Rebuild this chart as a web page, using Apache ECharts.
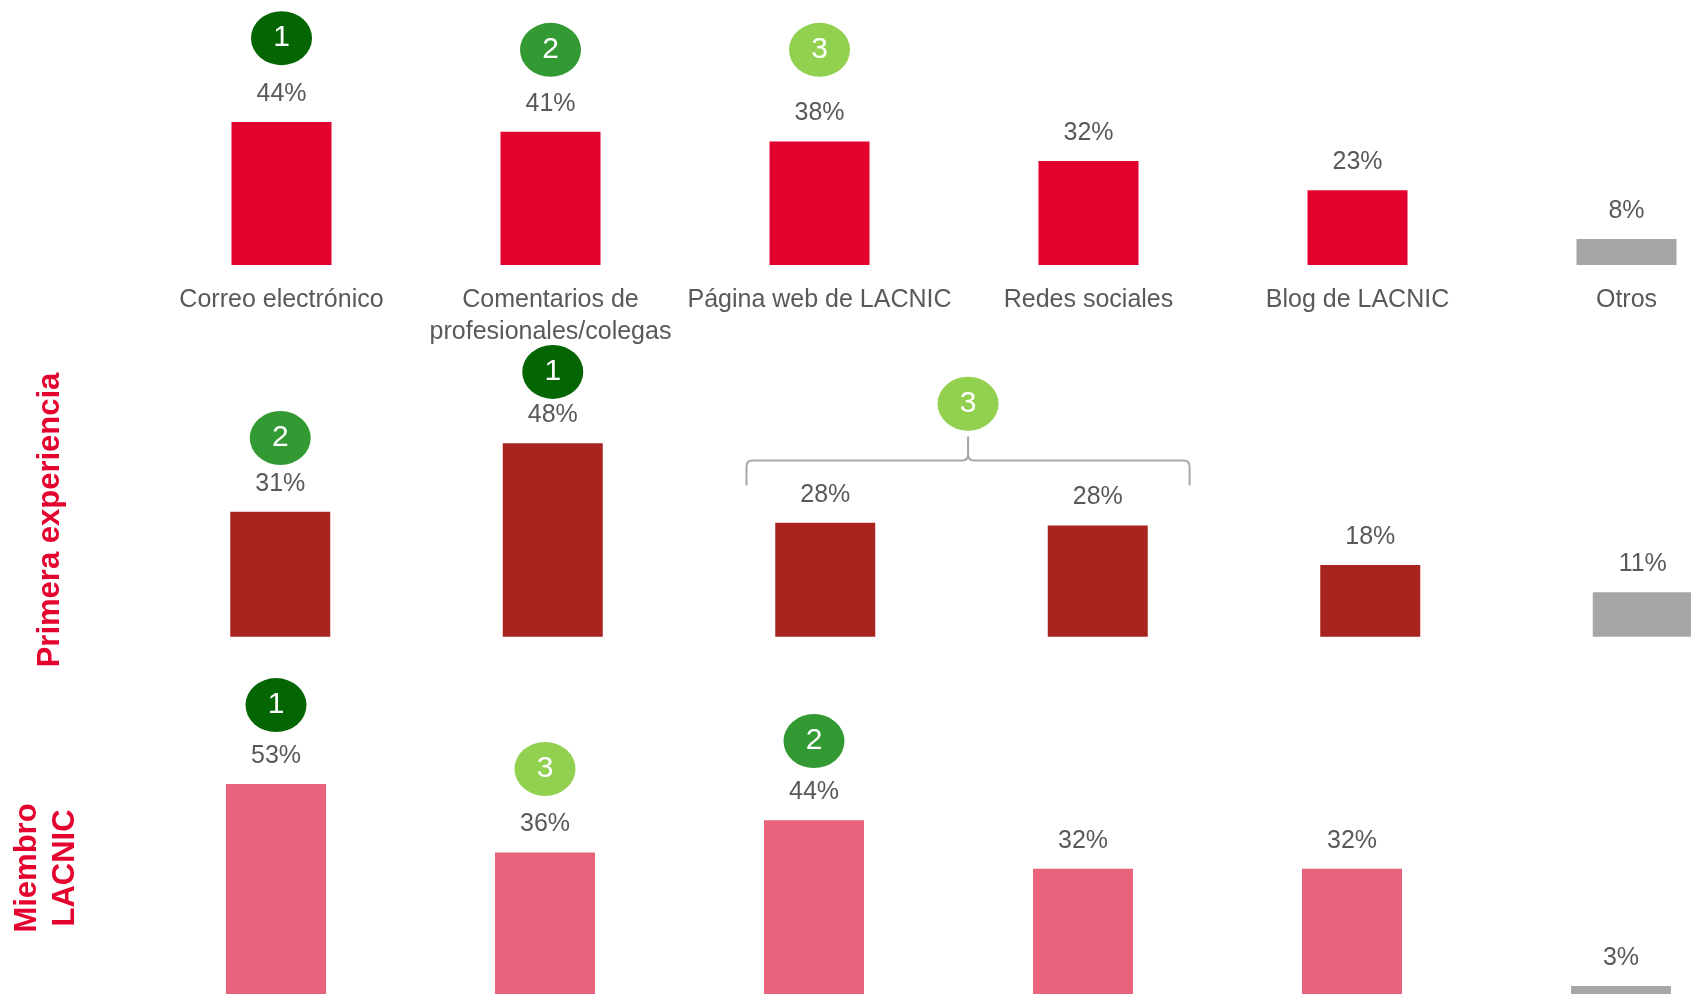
<!DOCTYPE html>
<html><head><meta charset="utf-8">
<script src="https://cdn.jsdelivr.net/npm/echarts@6/dist/echarts.min.js"></script>
<style>html,body{margin:0;padding:0;background:#fff}#c{width:1691px;height:994px}</style>
</head><body><div id="c"></div>
<script>
// ---- data ----
const categories = ['Correo electrónico', 'Comentarios de profesionales/colegas', 'Página web de LACNIC', 'Redes sociales', 'Blog de LACNIC', 'Otros'];
const totalValues = [44, 41, 38, 32, 23, 8];
const primeraValues = [31, 48, 28.3, 27.6, 17.8, 11];
const miembroValues = [53, 36, 44, 32, 32, 3];
// rank badges: [category index, badge level (value units), rank]
const totalBadges = [[0, 69.8, 1], [1, 66.2, 2], [2, 66.2, 3]];
const primeraBadges = [[0, 49.3, 2], [1, 65.7, 1]];
// shared rank: [first category, last category, brace level, badge level, rank]
const primeraGroupBadge = [[2, 3, 43.7, 57.8, 3]];
const miembroBadges = [[0, 72.5, 1], [1, 56.7, 3], [2, 63.6, 2]];
const rowTitles = ['Primera experiencia', 'Miembro\nLACNIC'];

// ---- styles ----
const FONT = '"Liberation Sans", Arial, sans-serif';
const barColors = ['#E4032E', '#A9241E', '#E8637B'];
const otrosColor = '#A6A6A6';
const rankColors = {1: '#036603', 2: '#339933', 3: '#92D050'};
const textGray = '#595959';

const grids = [
  {left: 147, top: 5, width: 1614, height: 260, outerBoundsMode: 'none', containLabel: false},
  {left: 144, top: 314.3, width: 1635, height: 322.4, outerBoundsMode: 'none', containLabel: false},
  {left: 141.5, top: 674.8, width: 1614, height: 323.2, outerBoundsMode: 'none', containLabel: false}
];

function xAxis(i) {
  return {
    type: 'category', gridIndex: i, data: categories,
    axisLine: {show: false}, axisTick: {show: false},
    axisLabel: i === 0 ? {
      show: true, interval: 0, margin: 19, color: textGray, fontSize: 25, lineHeight: 32, fontFamily: FONT,
      hideOverlap: false,
      formatter: v => v.replace(' de profesionales', ' de\nprofesionales')
    } : {show: false}
  };
}
function yAxis(i) {
  return {type: 'value', gridIndex: i, min: 0, max: 80, show: false, splitLine: {show: false}};
}
function barSeries(i, values) {
  return {
    type: 'bar', xAxisIndex: i, yAxisIndex: i, data: values, barWidth: 100,
    itemStyle: {color: p => p.dataIndex === categories.length - 1 ? otrosColor : barColors[i]},
    label: {
      show: true, position: 'top', distance: 15, color: textGray, fontSize: 25, lineHeight: 26, fontFamily: FONT,
      formatter: p => Math.round(p.value) + '%'
    }
  };
}
function badgeSeries(i, badges) {
  return {
    type: 'scatter', xAxisIndex: i, yAxisIndex: i, data: badges, clip: false,
    symbol: 'circle', symbolSize: [61, 54],
    itemStyle: {color: p => rankColors[p.data[2]], opacity: 1},
    label: {show: true, position: 'inside', color: '#fff', fontSize: 30, fontFamily: FONT, formatter: p => String(p.data[2])},
    z: 5
  };
}
const braceSeries = {
  type: 'custom', xAxisIndex: 1, yAxisIndex: 1, data: primeraGroupBadge, clip: false, z: 5,
  renderItem: function (params, api) {
    const p2 = api.coord([api.value(0), api.value(2)]);
    const p3 = api.coord([api.value(1), api.value(2)]);
    const pb = api.coord([api.value(0), api.value(3)]);
    const cw = api.size([1, 0])[0];
    const xm = (p2[0] + p3[0]) / 2 + 0.024 * cw;
    const half = (p3[0] - p2[0]) / 2 + 0.313 * cw;
    const xl = xm - half, xr = xm + half, y = p2[1];
    const r = 6, down = 25, up = 24;
    const d = `M${xl} ${y + down} L${xl} ${y + r} Q${xl} ${y} ${xl + r} ${y} L${xm - r} ${y} Q${xm} ${y} ${xm} ${y - r} L${xm} ${y - up} ` +
              `M${xm} ${y - r} Q${xm} ${y} ${xm + r} ${y} L${xr - r} ${y} Q${xr} ${y} ${xr} ${y + r} L${xr} ${y + down}`;
    const rank = api.value(4);
    return {
      type: 'group',
      children: [
        {type: 'path', shape: {pathData: d}, style: {stroke: '#A6A6A6', lineWidth: 2, fill: 'none'}},
        {type: 'circle', x: xm, y: pb[1], scaleY: 54 / 61, shape: {cx: 0, cy: 0, r: 30.5}, style: {fill: rankColors[rank]}},
        {type: 'text', x: xm, y: pb[1], style: {text: String(rank), fill: '#fff', fontSize: 30, fontFamily: FONT, align: 'center', verticalAlign: 'middle'}}
      ]
    };
  }
};

const chart = echarts.init(document.getElementById('c'));
chart.setOption({
  animation: false,
  backgroundColor: '#fff',
  grid: grids,
  xAxis: [0, 1, 2].map(xAxis),
  yAxis: [0, 1, 2].map(yAxis),
  series: [
    barSeries(0, totalValues), badgeSeries(0, totalBadges),
    barSeries(1, primeraValues), badgeSeries(1, primeraBadges), braceSeries,
    barSeries(2, miembroValues), badgeSeries(2, miembroBadges)
  ],
  graphic: [
    {type: 'text', x: 50, y: 520, rotation: Math.PI / 2,
     style: {text: rowTitles[0], fill: '#E4032E', fontSize: 31, fontWeight: 'bold', fontFamily: FONT,
             align: 'center', verticalAlign: 'middle', textAlign: 'center', textVerticalAlign: 'middle'}},
    {type: 'text', x: 46.5, y: 868, rotation: Math.PI / 2,
     style: {text: rowTitles[1], fill: '#E4032E', fontSize: 31, fontWeight: 'bold', fontFamily: FONT, lineHeight: 38,
             align: 'center', verticalAlign: 'middle', textAlign: 'center', textVerticalAlign: 'middle'}}
  ]
});
</script></body></html>
